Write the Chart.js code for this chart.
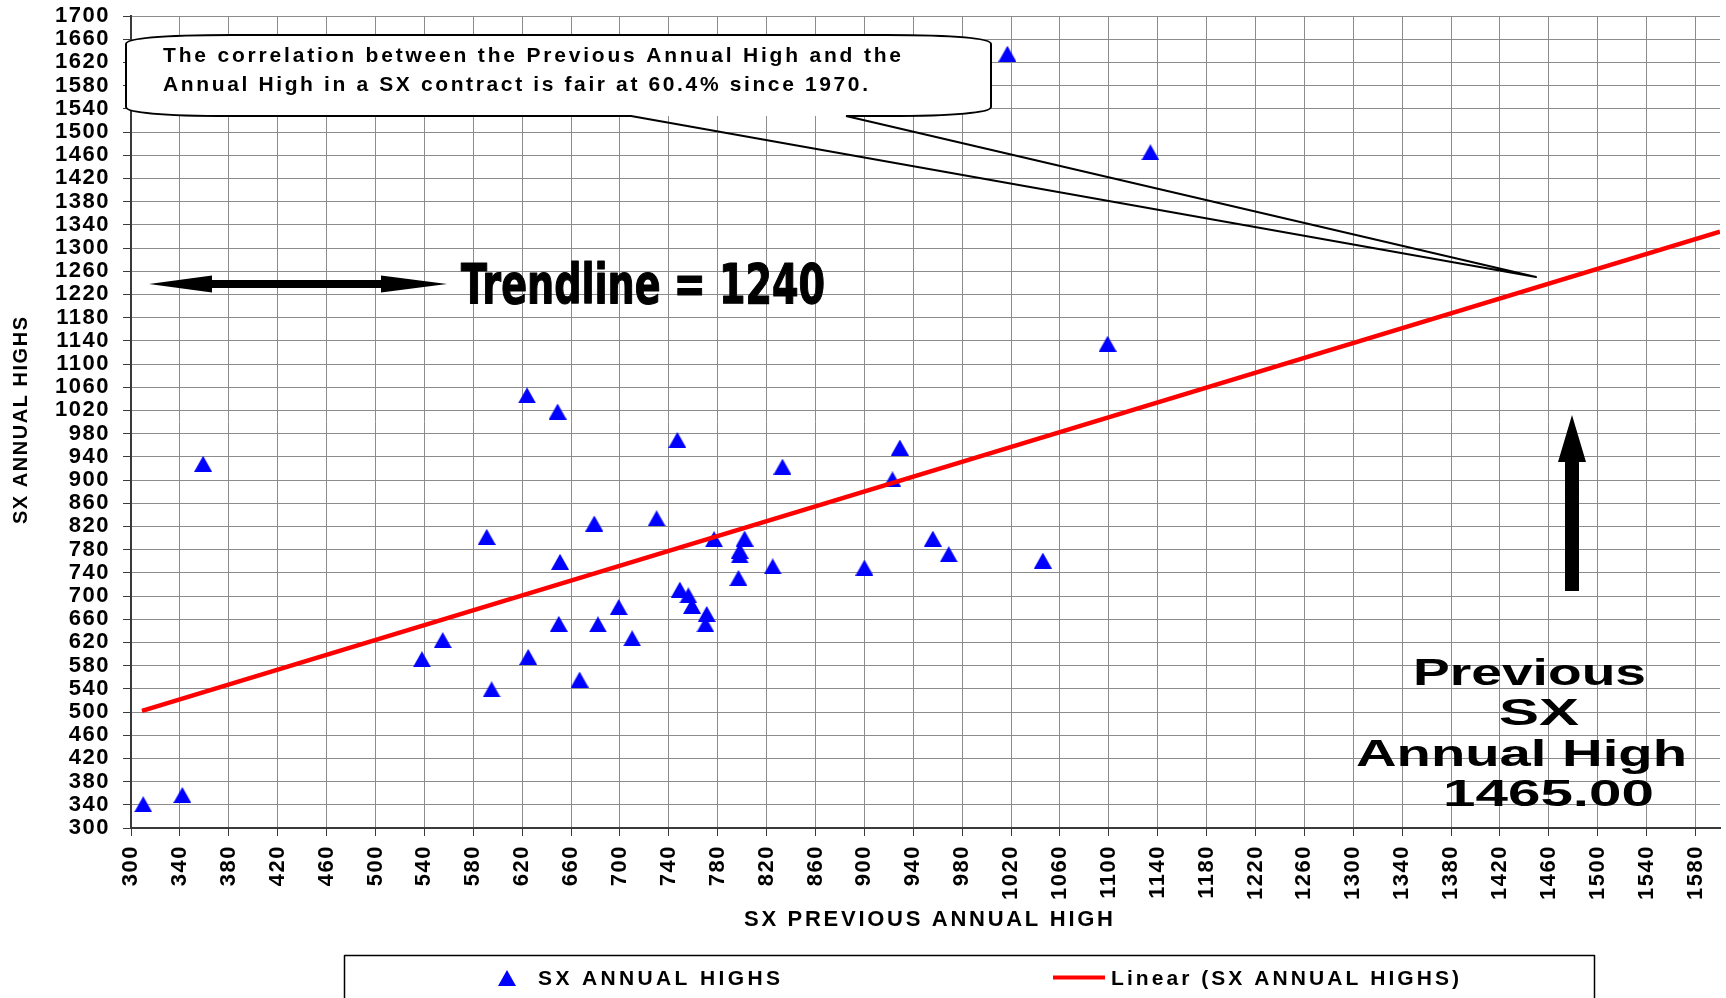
<!DOCTYPE html>
<html>
<head>
<meta charset="utf-8">
<title>SX Annual High vs Previous Annual High</title>
<script src="https://cdn.jsdelivr.net/npm/chart.js"></script>
<style>
  html, body { margin: 0; padding: 0; background: #fff; overflow: hidden; }
  #wrap { position: relative; width: 1730px; height: 998px; }
</style>
</head>
<body>
<div id="wrap"><canvas id="sxChart"></canvas></div>
<script>
// SX previous annual high (x) against the annual high that followed (y), one point per year
const prevHigh   = [310, 342, 359, 538, 555, 591, 595, 624, 625, 649, 650, 651, 667, 679, 682, 699, 710, 730, 747, 749,
                    756, 759, 771, 770, 777, 798, 798, 797, 802, 825, 833, 900, 923, 929, 956, 969, 1017, 1046, 1099, 1134];
const annualHigh = [341, 357, 928, 591, 624, 802, 539, 1046, 595, 1018, 652, 759, 556, 825, 651, 681, 627, 834, 969, 711,
                    701, 683, 669, 651, 798, 778, 770, 731, 799, 751, 923, 749, 901, 956, 799, 772, 1635, 761, 1135, 1465];

// linear trendline as drawn (start at lowest x, runs off the right edge)
const trendX = [309, 1600];
const trendY = [502, 1328];

// axes
const xRange = [300, 1600];
const yRange = [300, 1700];
function steps(from, to, by) {
    const out = [];
    for (let v = from; v <= to; v += by) out.push(v);
    return out;
}
const xTicks = steps(300, 1580, 40);
const yTicks = steps(300, 1700, 40);

const seriesNames = ['SX ANNUAL HIGHS', 'Linear (SX ANNUAL HIGHS)'];
const axisTitles = { x: 'SX PREVIOUS ANNUAL HIGH', y: 'SX ANNUAL HIGHS' };
const calloutLines = [
    'The correlation between the Previous Annual High and the',
    'Annual High in a SX contract is fair at 60.4% since 1970.'
];
const trendNote = 'Trendline = 1240';
const prevNote = ['Previous', 'SX', 'Annual High', '1465.00'];

const FONT = '"Liberation Sans", Arial, Helvetica, sans-serif';
const NARROW = '"Liberation Sans Narrow", "Arial Narrow", "DejaVu Sans Condensed", "Liberation Sans", sans-serif';

// triangle marker centred on its own box, like the spreadsheet marker
function makeTriangle(w, h, color) {
    const c = document.createElement('canvas');
    c.width = w;
    c.height = h;
    const g = c.getContext('2d');
    g.fillStyle = color;
    g.beginPath();
    g.moveTo(w / 2, 0);
    g.lineTo(w, h);
    g.lineTo(0, h);
    g.closePath();
    g.fill();
    return c;
}
const triangle = makeTriangle(18, 16, '#0000ff');

// text spread out to a given width with letter spacing
function spaced(ctx, text, x, y, width) {
    ctx.letterSpacing = '0px';
    const w = ctx.measureText(text).width;
    ctx.letterSpacing = ((width - w) / (text.length - 1)) + 'px';
    ctx.fillText(text, x, y);
    ctx.letterSpacing = '0px';
}

// text stretched / squeezed horizontally to a given width
function stretched(ctx, text, x, y, width, outline) {
    ctx.letterSpacing = '0px';
    const w = ctx.measureText(text).width;
    ctx.save();
    ctx.translate(x, y);
    ctx.scale(width / w, 1);
    ctx.fillText(text, 0, 0);
    if (outline) {
        ctx.lineWidth = outline;
        ctx.strokeText(text, 0, 0);
    }
    ctx.restore();
}

function drawCallout(ctx) {
    const L = 126, R = 991, T = 35, B = 116, rx = 105, ry = 9;
    const baseL = 631, baseR = 846, tipX = 1536, tipY = 277;

    function outline() {
        ctx.moveTo(baseR, B);
        ctx.lineTo(R - rx, B);
        ctx.bezierCurveTo(R - rx * 0.35, B, R, B - ry * 0.35, R, B - ry);
        ctx.lineTo(R, T + ry);
        ctx.bezierCurveTo(R, T + ry * 0.35, R - rx * 0.35, T, R - rx, T);
        ctx.lineTo(L + rx, T);
        ctx.bezierCurveTo(L + rx * 0.35, T, L, T + ry * 0.35, L, T + ry);
        ctx.lineTo(L, B - ry);
        ctx.bezierCurveTo(L, B - ry * 0.35, L + rx * 0.35, B, L + rx, B);
        ctx.lineTo(baseL, B);
    }

    ctx.beginPath();
    outline();
    ctx.closePath();
    ctx.fillStyle = '#fff';
    ctx.fill();

    ctx.beginPath();
    outline();
    ctx.lineTo(tipX, tipY);
    ctx.lineTo(baseR, B);
    ctx.strokeStyle = '#000';
    ctx.lineWidth = 2;
    ctx.lineJoin = 'round';
    ctx.stroke();

    ctx.fillStyle = '#000';
    ctx.font = 'bold 21px ' + FONT;
    spaced(ctx, calloutLines[0], 163, 62, 738);
    spaced(ctx, calloutLines[1], 163, 91, 705);
}

function drawArrows(ctx) {
    ctx.fillStyle = '#000';
    // double headed arrow pointing at the y axis
    ctx.beginPath();
    ctx.moveTo(149, 284);
    ctx.lineTo(212, 275.5);
    ctx.lineTo(212, 280);
    ctx.lineTo(381, 280);
    ctx.lineTo(381, 275.5);
    ctx.lineTo(447, 284);
    ctx.lineTo(381, 292.5);
    ctx.lineTo(381, 288);
    ctx.lineTo(212, 288);
    ctx.lineTo(212, 292.5);
    ctx.closePath();
    ctx.fill();

    // up arrow above the previous high note
    ctx.beginPath();
    ctx.moveTo(1572, 415);
    ctx.lineTo(1586, 462);
    ctx.lineTo(1579, 462);
    ctx.lineTo(1579, 591);
    ctx.lineTo(1565, 591);
    ctx.lineTo(1565, 462);
    ctx.lineTo(1558, 462);
    ctx.closePath();
    ctx.fill();
}

function drawNotes(ctx) {
    ctx.fillStyle = '#000';
    ctx.strokeStyle = '#000';
    ctx.font = 'bold 56px ' + NARROW;
    stretched(ctx, trendNote, 461, 303, 364, 1.2);

    ctx.font = 'bold 36px ' + FONT;
    stretched(ctx, prevNote[0], 1413, 685, 233);
    stretched(ctx, prevNote[1], 1499, 725, 80);
    stretched(ctx, prevNote[2], 1356, 766, 331);
    stretched(ctx, prevNote[3], 1443, 806, 211);
}

function drawTitles(ctx) {
    ctx.fillStyle = '#000';
    ctx.font = 'bold 22px ' + FONT;
    spaced(ctx, axisTitles.x, 744, 926, 369);

    ctx.save();
    ctx.translate(27, 524);
    ctx.rotate(-Math.PI / 2);
    ctx.font = 'bold 20px ' + FONT;
    spaced(ctx, axisTitles.y, 0, 0, 207);
    ctx.restore();
}

function drawLegend(ctx) {
    ctx.strokeStyle = '#000';
    ctx.lineWidth = 1.5;
    ctx.strokeRect(344.5, 955.5, 1250, 80);

    ctx.drawImage(triangle, 507 - triangle.width / 2, 978 - triangle.height / 2);
    ctx.fillStyle = '#000';
    ctx.font = 'bold 21px ' + FONT;
    spaced(ctx, seriesNames[0], 538, 985, 242);

    ctx.strokeStyle = '#ff0000';
    ctx.lineWidth = 4;
    ctx.beginPath();
    ctx.moveTo(1053, 977.5);
    ctx.lineTo(1105, 977.5);
    ctx.stroke();
    spaced(ctx, seriesNames[1], 1111, 985, 348);
}

const notesPlugin = {
    id: 'notes',
    beforeDraw(chart) {
        // tick labels in the original are slightly spaced out
        chart.ctx.letterSpacing = '1.5px';
    },
    afterDraw(chart) {
        const ctx = chart.ctx;
        ctx.save();
        drawCallout(ctx);
        drawArrows(ctx);
        drawNotes(ctx);
        drawTitles(ctx);
        drawLegend(ctx);
        ctx.restore();
    }
};

const tickFont = { family: FONT, size: 22, weight: 'bold' };
const gridStyle = { color: '#8c8c8c', lineWidth: 1, tickLength: 8, tickColor: '#3a3a3a' };
const borderStyle = { color: '#3a3a3a', width: 2 };

new Chart(document.getElementById('sxChart'), {
    type: 'scatter',
    data: {
        datasets: [
            {
                label: seriesNames[0],
                data: prevHigh.map((x, i) => ({ x: x, y: annualHigh[i] })),
                pointStyle: triangle,
                pointRadius: 9,
                showLine: false,
                order: 1
            },
            {
                label: seriesNames[1],
                data: trendX.map((x, i) => ({ x: x, y: trendY[i] })),
                showLine: true,
                borderColor: '#ff0000',
                borderWidth: 4.5,
                pointRadius: 0,
                order: 0
            }
        ]
    },
    options: {
        responsive: true,
        maintainAspectRatio: false,
        animation: false,
        events: [],
        layout: { padding: { top: 16, right: 0, bottom: 0, left: 0 } },
        plugins: {
            legend: { display: false },
            tooltip: { enabled: false }
        },
        scales: {
            x: {
                type: 'linear',
                min: xRange[0],
                max: xRange[1],
                afterBuildTicks: scale => { scale.ticks = xTicks.map(v => ({ value: v })); },
                afterFit: scale => { scale.height = 170; scale.paddingLeft = 0; scale.paddingRight = 0; },
                ticks: {
                    autoSkip: false,
                    minRotation: 90,
                    maxRotation: 90,
                    padding: 9,
                    color: '#000',
                    font: tickFont,
                    callback: v => String(v)
                },
                grid: gridStyle,
                border: borderStyle
            },
            y: {
                type: 'linear',
                min: yRange[0],
                max: yRange[1],
                afterBuildTicks: scale => { scale.ticks = yTicks.map(v => ({ value: v })); },
                afterFit: scale => { scale.width = 131; scale.paddingTop = 0; scale.paddingBottom = 0; },
                ticks: {
                    autoSkip: false,
                    padding: 13,
                    color: '#000',
                    font: tickFont,
                    callback: v => String(v)
                },
                grid: gridStyle,
                border: borderStyle
            }
        }
    },
    plugins: [notesPlugin]
});
</script>
</body>
</html>
